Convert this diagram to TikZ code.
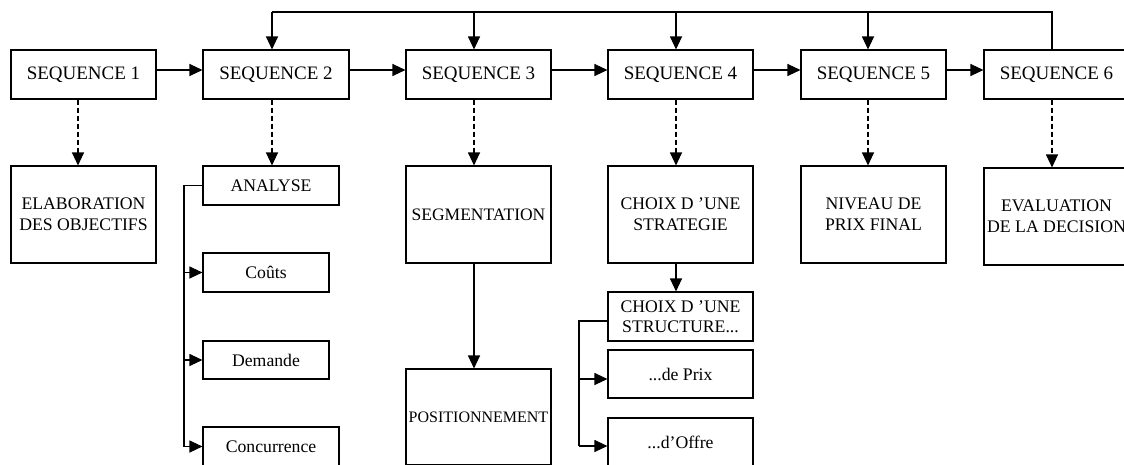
\documentclass[tikz,border=0pt]{standalone}
\usepackage{fontspec}
\setmainfont{Liberation Serif}
\usetikzlibrary{arrows.meta,calc}
\begin{document}
\begin{tikzpicture}[x=1pt,y=-1pt,
  box/.style={draw, line width=1.1pt, inner sep=0pt, align=center, font=\fontsize{17.7}{21}\selectfont, minimum width=145pt},
  seqbox/.style={box, minimum height=49pt, font=\fontsize{19}{21}\selectfont},
  arr/.style={line width=1.1pt, -{Triangle[length=13pt,width=12pt]}},
  darr/.style={arr, dash pattern=on 5pt off 3pt},
  ln/.style={line width=1.1pt}]
\useasboundingbox (0,0) rectangle (1124,464);
% sequences
\node[seqbox] (s1) at (83.5,74.5) {SEQUENCE 1};
\node[seqbox, minimum width=146pt] (s2) at (276,74.5) {SEQUENCE 2};
\node[seqbox] (s3) at (478.5,74.5) {SEQUENCE 3};
\node[seqbox] (s4) at (680.5,74.5) {SEQUENCE 4};
\node[seqbox] (s5) at (873.5,74.5) {SEQUENCE 5};
\node[seqbox] (s6) at (1056.5,74.5) {SEQUENCE 6};
% second row
\node[box, minimum height=97pt] (el) at (83.5,214.5) {ELABORATION\\DES OBJECTIFS};
\node[box, minimum width=136pt, minimum height=39pt] (an) at (271,185.5) {ANALYSE};
\node[box, minimum width=126pt, minimum height=39pt] (co) at (266,272.5) {Coûts};
\node[box, minimum width=126pt, minimum height=38pt] (de) at (266,360) {Demande};
\node[box, minimum width=136pt, minimum height=39pt] (cc) at (271,446.5) {Concurrence};
\node[box, minimum height=97pt, font=\fontsize{17.5}{21}\selectfont] (sg) at (478.5,214.5) {SEGMENTATION};
\node[box, minimum height=96pt, font=\fontsize{16}{20}\selectfont] (po) at (478.5,417) {POSITIONNEMENT};
\node[box, minimum height=97pt] (cs) at (680.5,214.5) {CHOIX D ’UNE\\STRATEGIE};
\node[box, minimum height=49pt, font=\fontsize{17.7}{20}\selectfont] (st) at (680.5,316.5) {CHOIX D ’UNE\\STRUCTURE...};
\node[box, minimum height=48pt] (px) at (680.5,374) {...de Prix};
\node[box, minimum height=48pt] (of) at (680.5,442) {...d’Offre};
\node[box, minimum height=97pt] (nf) at (873.5,214.5) {NIVEAU DE\\PRIX FINAL};
\node[box, minimum height=97pt] (ev) at (1056.5,216.5) {EVALUATION\\DE LA DECISION};
% horizontal arrows
\foreach \a/\b in {s1/s2,s2/s3,s3/s4,s4/s5,s5/s6}
  \draw[arr] ([yshift=4.5pt]\a.east) -- ([yshift=4.5pt]\b.west);
% x positions of the vertical connectors
\coordinate (x1) at (78,0);
\coordinate (x2) at (272,0);
\coordinate (x3) at (474,0);
\coordinate (x4) at (676,0);
\coordinate (x5) at (868,0);
\coordinate (x6) at (1052,0);
\coordinate (top) at (0,12);
% feedback loop
\draw[ln] (x6 |- s6.north) -- (x6 |- top) -- (x2 |- top);
\foreach \x/\s in {x2/s2,x3/s3,x4/s4,x5/s5}
  \draw[arr] (\x |- top) -- (\x |- \s.north);
% dashed arrows
\foreach \x/\s/\t in {x1/s1/el,x2/s2/an,x3/s3/sg,x4/s4/cs,x5/s5/nf,x6/s6/ev}
  \draw[darr] (\x |- \s.south) -- (\x |- \t.north);
% analyse branch
\coordinate (ab) at (184,185.5);
\draw[ln] (an.west) -- (ab) -- (ab |- cc.west);
\foreach \t in {co,de,cc}
  \draw[arr] (ab |- \t.west) -- (\t.west);
% segmentation -> positionnement
\draw[arr] (x3 |- sg.south) -- (x3 |- po.north);
% strategie -> structure
\draw[arr] (x4 |- cs.south) -- (x4 |- st.north);
% structure branch
\coordinate (sb) at (579,321);
\coordinate (sp) at (579,379);
\coordinate (so) at (579,446);
\draw[ln] (sb -| st.west) -- (sb) -- (so);
\draw[arr] (sp) -- (sp -| px.west);
\draw[arr] (so) -- (so -| of.west);
\end{tikzpicture}
\end{document}
